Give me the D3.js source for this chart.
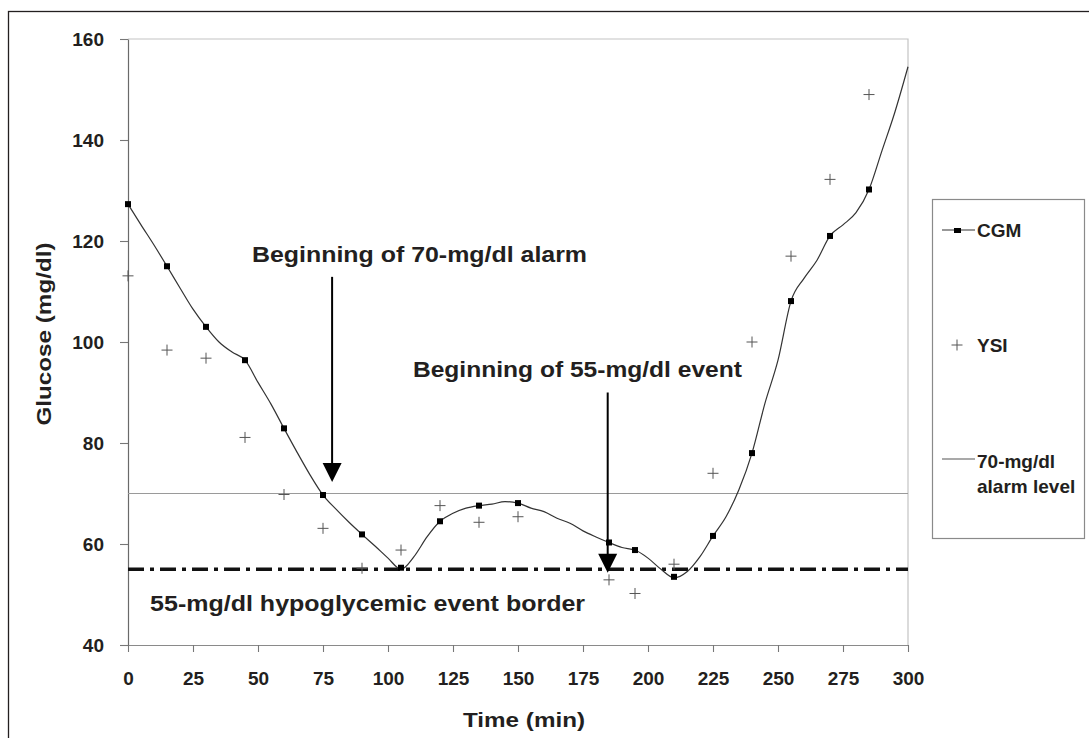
<!DOCTYPE html>
<html lang="en">
<head>
<meta charset="UTF-8">
<title>CGM vs YSI glucose</title>
<script src="https://d3js.org/d3.v7.min.js"></script>
<style>
  body { margin: 0; background: #fff; }
  svg { display: block; font-family: Arial, "Liberation Sans", Helvetica, sans-serif; }
  .tick text { font-size: 19px; font-weight: bold; fill: #231f20; }
  .lbl { font-weight: bold; fill: #231f20; }
</style>
</head>
<body>
<div id="chart"></div>
<script>
// CGM trace read every 5 min
const traceTimes = [0,5,10,15,20,25,30,35,40,45,50,55,60,65,70,75,80,85,90,95,100,105,110,115,120,125,130,135,140,145,150,
  155,160,165,170,175,180,185,190,195,200,205,210,215,220,225,230,235,240,245,250,255,260,265,270,275,280,285,290,295,300];
const traceValues = [127.3,123.2,119.2,115.0,110.7,106.5,103.0,100.0,98.0,96.4,92.0,87.7,82.9,78.2,73.7,69.7,66.9,64.3,61.9,59.6,57.2,55.0,57.5,61.4,64.5,66.1,67.1,67.6,67.9,68.4,68.1,
  67.1,66.4,65.1,64.1,62.6,61.4,60.3,59.3,58.8,57.2,55.0,53.3,54.5,57.5,61.6,65.4,70.8,78.0,87.9,96.4,108.1,112.6,116.2,121.0,123.2,125.6,130.2,137.9,145.6,154.5];

// CGM markers and YSI reference samples
const sampleTimes = [0,15,30,45,60,75,90,105,120,135,150,185,195,210,225,240,255,270,285];
const cgmValues = [127.3,115.0,103.0,96.4,82.9,69.7,61.9,55.3,64.5,67.6,68.1,60.3,58.8,53.5,61.6,78.0,108.1,121.0,130.2];
const ysiValues = [113.1,98.4,96.8,81.1,69.8,63.1,55.2,58.8,67.6,64.3,65.4,52.9,50.2,56.0,74.0,100.0,117.0,132.2,149.0];

const alarmLevel = 70;
const eventLevel = 55;

const xTicks = [0,25,50,75,100,125,150,175,200,225,250,275,300];
const yTicks = [40,60,80,100,120,140,160];

// arrows: time, start value, tip value
const arrows = [
  { t: 78.5, from: 112.9, to: 72.3 },
  { t: 184.5, from: 90.0, to: 54.3 }
];
const notes = [
  { text: "Beginning of 70-mg/dl alarm", t: 47.7, v: 115.8, len: 335 },
  { text: "Beginning of 55-mg/dl event", t: 109.6, v: 93.1, len: 329 },
  { text: "55-mg/dl hypoglycemic event border", t: 8.5, v: 46.7, len: 435 }
];

const width = 1089, height = 738;
const svg = d3.select("#chart").append("svg").attr("width", width).attr("height", height);

// outer frame
svg.append("rect").attr("x", 8.5).attr("y", 11.5).attr("width", 1100).attr("height", 760)
  .attr("fill", "none").attr("stroke", "#231f20").attr("stroke-width", 1.3);

const x = d3.scaleLinear().domain([0, 300]).range([128, 908]);
const y = d3.scaleLinear().domain([40, 160]).range([645, 39]);

// plot area border (top/right)
svg.append("path")
  .attr("d", `M${x(0)},${y(160)}H${x(300)}V${y(40)}`)
  .attr("fill", "none").attr("stroke", "#c4c4c4").attr("stroke-width", 1.2);

const gx = svg.append("g").attr("transform", `translate(0,${y(40)})`)
  .call(d3.axisBottom(x).tickValues(xTicks).tickSize(7).tickSizeOuter(0).tickPadding(20));
const gy = svg.append("g").attr("transform", `translate(${x(0)},0)`)
  .call(d3.axisLeft(y).tickValues(yTicks).tickSize(8).tickSizeOuter(0).tickPadding(16));
gx.select(".domain").attr("stroke", "#8a8a8a").attr("stroke-width", 1.2);
gy.select(".domain").attr("stroke", "#6a6a6a").attr("stroke-width", 1.2);
svg.selectAll(".tick line").attr("stroke", "#777").attr("stroke-width", 1.1);
svg.selectAll(".tick text").attr("font-family", null);

// reference lines
svg.append("line").attr("x1", x(0)).attr("x2", x(300)).attr("y1", y(alarmLevel)).attr("y2", y(alarmLevel))
  .attr("stroke", "#9a9a9a").attr("stroke-width", 1.2);
svg.append("line").attr("x1", x(0)).attr("x2", x(300)).attr("y1", y(eventLevel)).attr("y2", y(eventLevel))
  .attr("stroke", "#111").attr("stroke-width", 3.5).attr("stroke-dasharray", "16,6,4,6");

// CGM trace
const line = d3.line().x((d, i) => x(traceTimes[i])).y(d => y(d)).curve(d3.curveMonotoneX);
svg.append("path").datum(traceValues).attr("d", line)
  .attr("fill", "none").attr("stroke", "#333").attr("stroke-width", 1.2);

// CGM markers
svg.append("g").selectAll("rect").data(cgmValues).join("rect")
  .attr("x", (d, i) => x(sampleTimes[i]) - 3).attr("y", d => y(d) - 3)
  .attr("width", 6).attr("height", 6).attr("fill", "#000");

// YSI crosses
svg.append("g").selectAll("path").data(ysiValues).join("path")
  .attr("d", (d, i) => { const cx = x(sampleTimes[i]), cy = y(d); return `M${cx-5.5},${cy}H${cx+5.5}M${cx},${cy-5.5}V${cy+5.5}`; })
  .attr("stroke", "#555").attr("stroke-width", 1).attr("fill", "none");

// arrows
arrows.forEach(a => {
  const ax = x(a.t), tip = y(a.to);
  svg.append("line").attr("x1", ax).attr("x2", ax).attr("y1", y(a.from)).attr("y2", tip - 10)
    .attr("stroke", "#000").attr("stroke-width", 2);
  svg.append("path").attr("d", `M${ax-9.5},${tip-19}L${ax+9.5},${tip-19}L${ax},${tip}Z`).attr("fill", "#000");
});

// annotation texts
svg.append("g").selectAll("text").data(notes).join("text")
  .attr("class", "lbl").attr("x", d => x(d.t)).attr("y", d => y(d.v))
  .attr("font-size", 22).attr("textLength", d => d.len).attr("lengthAdjust", "spacingAndGlyphs")
  .text(d => d.text);

// axis titles
svg.append("text").attr("class", "lbl").attr("text-anchor", "middle")
  .attr("transform", `translate(${(x(0) + x(300)) / 2 + 6},727)`)
  .attr("font-size", 21).attr("textLength", 122).attr("lengthAdjust", "spacingAndGlyphs")
  .text("Time (min)");
svg.append("text").attr("class", "lbl").attr("text-anchor", "middle")
  .attr("transform", "translate(51,334) rotate(-90)")
  .attr("font-size", 21).attr("textLength", 183).attr("lengthAdjust", "spacingAndGlyphs")
  .text("Glucose (mg/dl)");

// legend
const lg = svg.append("g");
lg.append("rect").attr("x", 932.5).attr("y", 199.5).attr("width", 152).attr("height", 339)
  .attr("fill", "#fff").attr("stroke", "#8a8a8a").attr("stroke-width", 1.2);
lg.append("line").attr("x1", 942).attr("x2", 975).attr("y1", 230).attr("y2", 230).attr("stroke", "#333").attr("stroke-width", 1.2);
lg.append("rect").attr("x", 954).attr("y", 228).attr("width", 7).attr("height", 5).attr("fill", "#000");
lg.append("text").attr("class", "lbl").attr("x", 977).attr("y", 237).attr("font-size", 19).text("CGM");
lg.append("path").attr("d", "M951.5,345H962.5M957,339.5V350.5").attr("stroke", "#555").attr("stroke-width", 1);
lg.append("text").attr("class", "lbl").attr("x", 977).attr("y", 352).attr("font-size", 19).text("YSI");
lg.append("line").attr("x1", 942).attr("x2", 975).attr("y1", 459).attr("y2", 459).attr("stroke", "#555").attr("stroke-width", 1.1);
lg.append("text").attr("class", "lbl").attr("x", 977).attr("y", 468).attr("font-size", 19).text("70-mg/dl");
lg.append("text").attr("class", "lbl").attr("x", 977).attr("y", 493).attr("font-size", 19).text("alarm level");
</script>
</body>
</html>
